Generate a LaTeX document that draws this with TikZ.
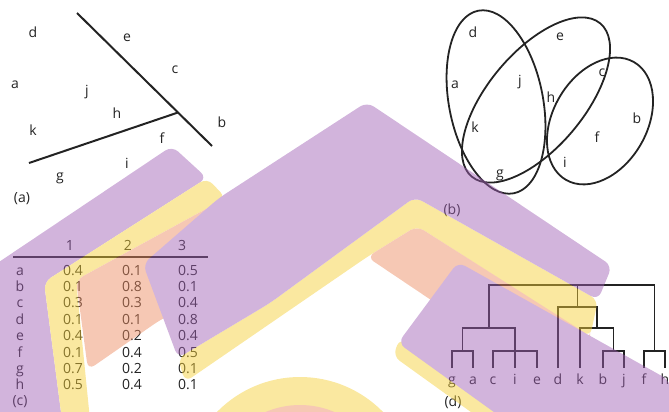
\documentclass[tikz,border=0pt]{standalone}
\usepackage{fontspec}
\setmainfont{Open Sans}
\definecolor{ink}{RGB}{35,35,35}
\definecolor{wmP}{RGB}{159,95,180}
\definecolor{wmY}{RGB}{244,206,53}
\definecolor{wmK}{RGB}{236,138,95}
\begin{document}
\begin{tikzpicture}[x=1pt,y=-1pt,
  lbl/.style={font=\fontsize{14}{16}\selectfont, text=ink, inner sep=0pt},
  blbl/.style={lbl, anchor=base},
  sepline/.style={draw=ink, line width=2pt},
  ring/.style={draw=ink, line width=1.8pt},
  tree/.style={draw=ink, line width=1.8pt},
  hrule/.style={draw=ink, line width=2pt},
  wm/.style={rounded corners=8pt}]
\useasboundingbox (0,0) rectangle (669,412);
\clip (0,0) rectangle (669,412);

% ---------- panel (a)
\coordinate (sa1) at (77,13);
\coordinate (sa2) at (212,146);
\coordinate (sb1) at (29,163);
\coordinate (sb2) at (178,112.5);
\draw[sepline] (sa1) -- (sa2);
\draw[sepline] (sb1) -- (sb2);
\foreach \n/\x/\y in {d/33/32, e/127/38, c/175/70, a/15/85, j/87/92, h/117/113,
                      k/33/130, b/222/122, f/162/138, i/127/163, g/60/178}
  \node[lbl] (a\n) at (\x,\y) {\n};
\node[lbl] (capa) at (22,199) {(a)};

% ---------- panel (b)
\coordinate (e1) at (496,102);
\coordinate (e2) at (536,100);
\coordinate (e3) at (600,121);
\draw[ring, rotate around={101:(e1)}] (e1) ellipse [x radius=93, y radius=47];
\draw[ring, rotate around={50:(e2)}] (e2) ellipse [x radius=100, y radius=48];
\draw[ring, rotate around={60:(e3)}] (e3) ellipse [x radius=68, y radius=47];
\foreach \n/\x/\y in {d/473/32, e/560/37, a/455/85, j/520/82, c/602/73, h/551/97,
                      k/475/127, b/637/118, f/597/137, i/565/162, g/500/175}
  \node[lbl] (b\n) at (\x,\y) {\n};
\node[lbl] (capb) at (452,210) {(b)};

% ---------- panel (c)
\node[blbl] (h1) at (70,250) {1};
\node[blbl] (h2) at (128,250) {2};
\node[blbl] (h3) at (182,250) {3};
\coordinate (rl) at (13,257);
\coordinate (rr) at (208,257);
\draw[hrule] (rl) -- (rr);
\foreach \r/\p/\q/\s [count=\i from 0] in {a/0.4/0.1/0.5, b/0.1/0.8/0.1, c/0.3/0.3/0.4,
    d/0.1/0.1/0.8, e/0.4/0.2/0.4, f/0.1/0.4/0.5, g/0.7/0.2/0.1, h/0.5/0.4/0.1}{
  \node[blbl] (row\r) at (20,275+16.4*\i) {\r};
  \node[blbl] (one\r) at (73,275+16.4*\i) {\p};
  \node[blbl] (two\r) at (132,275+16.4*\i) {\q};
  \node[blbl] (three\r) at (188,275+16.4*\i) {\s};
}
\node[lbl] (capc) at (20,402) {(c)};

% ---------- panel (d)
\foreach \n/\x in {g/452, a/473, c/493, i/515, e/537, d/558, k/580, b/603, j/624, f/644, h/665}{
  \node[blbl] (L\n) at (\x,384) {\n};
  \coordinate (t\n) at (\x,368);
}
\coordinate (ga) at (462.5,351);
\coordinate (ce) at (515,351);
\coordinate (gaci) at (488.75,328);
\coordinate (bj) at (613.5,351);
\coordinate (kbj) at (596.75,328);
\coordinate (dkbj) at (577.4,307);
\coordinate (fh) at (654.5,351);
\coordinate (root) at (577.4,285);
\draw[tree] (tg) |- (ga) -| (ta);
\draw[tree] (tc) |- (ce) -| (te);
\draw[tree] (ga) |- (gaci) -| (ti);
\draw[tree] (tb) |- (bj) -| (tj);
\draw[tree] (tk) |- (kbj) -| (bj);
\draw[tree] (td) |- (dkbj) -| (kbj);
\draw[tree] (tf) |- (fh) -| (th);
\draw[tree] (gaci) |- (root) -| (fh);
\draw[tree] (dkbj) -- (root);
\node[lbl] (capd) at (453,402) {(d)};

% ---------- watermark
\begin{scope}[transparency group, opacity=0.47]
 \fill[wmP, wm] (172,146) -- (207,178) -- (44,282) -- (62,420) -- (-10,420) -- (-10,268) -- cycle;
 \fill[wmY, wm] (207,178) -- (226,198) -- (76,280) -- (90,420) -- (62,420) -- (44,282) -- cycle;
 \fill[wmK, wm] (76,280) -- (226,198) -- (200,300) -- (160,320) -- (88,370) -- cycle;
 \fill[wmY] (300,493) circle [radius=116];
 \fill[wmK] (300,493) circle [radius=88];
 \fill[wmY, wm] (415,197) -- (598,300) -- (590,337) -- (417,226) -- (367,257) -- (185,382) -- (178,358) -- (270,303) -- cycle;
 \fill[wmK, wm] (417,226) -- (367,257) -- (440,306) -- (590,340) -- (590,336) -- cycle;
 \fill[wmP, wm] (143,264) -- (219,198) -- (367,102) -- (612,266) -- (598,300) -- (415,197) -- (270,303) -- (178,358) -- cycle;
 \fill[wmY, wm] (400,338) -- (510,420) -- (482,420) -- (393,356) -- cycle;
 \fill[wmP, wm] (458,262) -- (669,380) -- (680,420) -- (505,420) -- (398,343) -- cycle;
\end{scope}
\end{tikzpicture}
\end{document}
